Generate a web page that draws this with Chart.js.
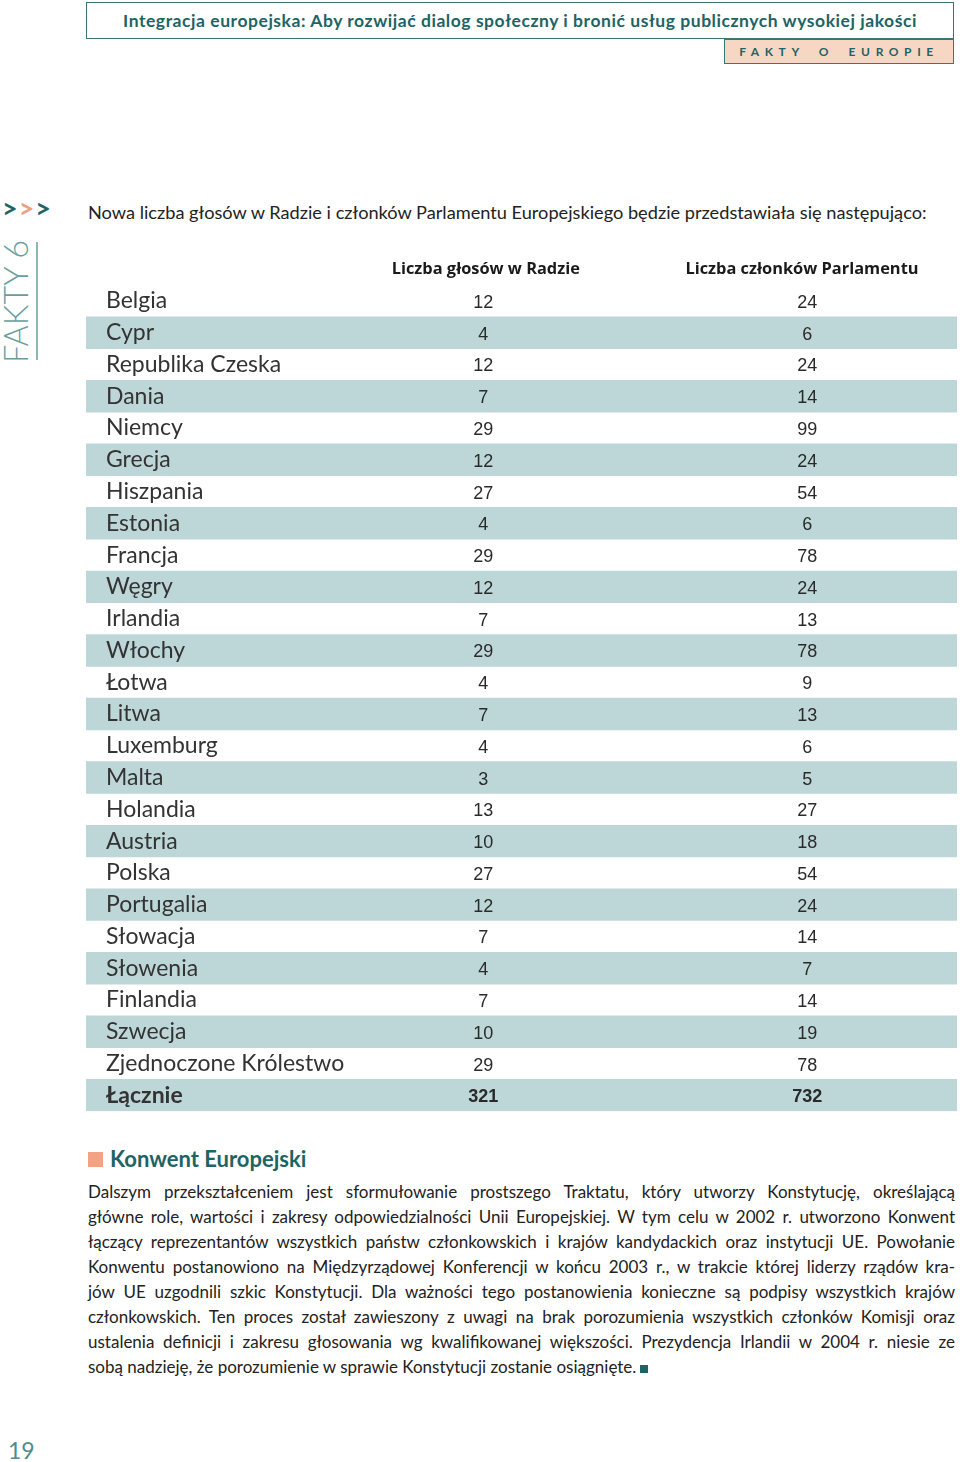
<!DOCTYPE html>
<html lang="pl">
<head>
<meta charset="utf-8">
<script src="https://cdn.jsdelivr.net/npm/chart.js@4.4.1/dist/chart.umd.min.js"></script>
<style>
  html, body { margin: 0; padding: 0; background: #fff; }
  body { width: 960px; height: 1462px; position: relative; overflow: hidden; font-family: Lato, "Noto Sans", sans-serif; color: #222; }
  .abs { position: absolute; }
  #title { left: 86px; top: 2px; width: 866px; height: 35px; border: 1.5px solid #3b7676; color: #1d6464;
    font-weight: bold; font-size: 17.5px; letter-spacing: 0.55px; line-height: 35px; text-align: center; white-space: nowrap; }
  #tag { left: 724px; top: 38.5px; width: 228px; height: 23px; border: 1.5px solid #3b7676; background: #f8d6c4;
    color: #1d6464; font-weight: bold; font-size: 12px; line-height: 23px; letter-spacing: 5.6px; word-spacing: 6px;
    text-align: center; white-space: nowrap; }
  #arrows { left: 2px; top: 193px; font-weight: bold; font-size: 27px; line-height: 30px; letter-spacing: 1px; white-space: nowrap; }
  #side { left: -3px; top: 241px; height: 122px; writing-mode: vertical-rl; transform: rotate(180deg);
    font-weight: 300; font-size: 32.5px; line-height: 38px; color: #6a9e9e; white-space: nowrap; }
  #sideLine { left: 36px; top: 242px; width: 1.5px; height: 118px; background: #8fb4b4; }
  #intro { left: 88px; top: 203px; font-size: 18.2px; line-height: 18px; white-space: nowrap; }
  #table { left: 86px; top: 250px; }
  #konwent { left: 110px; top: 1146px; font-weight: bold; font-size: 22px; line-height: 26px; color: #1d6464; }
  #sq { left: 88px; top: 1152px; width: 15px; height: 15px; background: #f4a283; }
  #para { left: 88px; top: 1179px; width: 867px; font-size: 17px; line-height: 25px; }
  #para div { text-align: justify; text-align-last: justify; white-space: nowrap; }
  #para div.last { text-align-last: left; }
  .end { display: inline-block; width: 8px; height: 8px; background: #1d6464; margin-left: 4px; }
  #page { left: 8px; top: 1437px; font-size: 23px; line-height: 26px; color: #4e8c8c; }
</style>
</head>
<body>
<div id="title" class="abs">Integracja europejska: Aby rozwijać dialog społeczny i bronić usług publicznych wysokiej jakości</div>
<div id="tag" class="abs">FAKTY O EUROPIE</div>
<div id="arrows" class="abs"><span style="color:#1d6464">&gt;</span><span style="color:#f0a080">&gt;</span><span style="color:#1d6464">&gt;</span></div>
<div id="side" class="abs">FAKTY 6</div>
<div id="sideLine" class="abs"></div>
<div id="intro" class="abs">Nowa liczba głosów w Radzie i członków Parlamentu Europejskiego będzie przedstawiała się następująco:</div>

<div id="table" class="abs"><canvas id="grid" width="871" height="895"></canvas></div>

<div id="sq" class="abs"></div>
<div id="konwent" class="abs">Konwent Europejski</div>
<div id="para" class="abs">
  <div>Dalszym przekształceniem jest sformułowanie prostszego Traktatu, który utworzy Konstytucję, określającą</div>
  <div>główne role, wartości i zakresy odpowiedzialności Unii Europejskiej. W tym celu w 2002 r. utworzono Konwent</div>
  <div>łączący reprezentantów wszystkich państw członkowskich i krajów kandydackich oraz instytucji UE. Powołanie</div>
  <div>Konwentu postanowiono na Międzyrządowej Konferencji w końcu 2003 r., w trakcie której liderzy rządów kra-</div>
  <div>jów UE uzgodnili szkic Konstytucji. Dla ważności tego postanowienia konieczne są podpisy wszystkich krajów</div>
  <div>członkowskich. Ten proces został zawieszony z uwagi na brak porozumienia wszystkich członków Komisji oraz</div>
  <div>ustalenia definicji i zakresu głosowania wg kwalifikowanej większości. Prezydencja Irlandii w 2004 r. niesie ze</div>
  <div class="last">sobą nadzieję, że porozumienie w sprawie Konstytucji zostanie osiągnięte.<span class="end"></span></div>
</div>
<div id="page" class="abs">19</div>

<script>
const countries = ["Belgia", "Cypr", "Republika Czeska", "Dania", "Niemcy", "Grecja", "Hiszpania", "Estonia",
  "Francja", "Węgry", "Irlandia", "Włochy", "Łotwa", "Litwa", "Luxemburg", "Malta", "Holandia", "Austria",
  "Polska", "Portugalia", "Słowacja", "Słowenia", "Finlandia", "Szwecja", "Zjednoczone Królestwo"];
const councilVotes = [12, 4, 12, 7, 29, 12, 27, 4, 29, 12, 7, 29, 4, 7, 4, 3, 13, 10, 27, 12, 7, 4, 7, 10, 29];
const parliamentSeats = [24, 6, 24, 14, 99, 24, 54, 6, 78, 24, 13, 78, 9, 13, 6, 5, 27, 18, 54, 24, 14, 7, 14, 19, 78];
const totalLabel = "Łącznie";
const totalVotes = 321;
const totalSeats = 732;
const columnHeaders = ["Liczba głosów w Radzie", "Liczba członków Parlamentu"];

const rowLabels = countries.concat([totalLabel]);
const votesCol = councilVotes.concat([totalVotes]);
const seatsCol = parliamentSeats.concat([totalSeats]);
const lastRow = rowLabels.length - 1;

// column centres on the 0..1 x scale
const HEADER_X = [0.459, 0.822];
const VALUE_X = [0.456, 0.828];

const cellText = {
  id: "cellText",
  afterDatasetsDraw(chart) {
    const { ctx, scales: { x, y } } = chart;
    ctx.save();
    ctx.fillStyle = "#2a2a2a";
    ctx.textAlign = "center";
    ctx.textBaseline = "middle";
    rowLabels.forEach((_, i) => {
      ctx.font = (i === lastRow ? "bold " : "") + "18px 'Liberation Sans'";
      const py = y.getPixelForValue(i) + 2;
      ctx.fillText(String(votesCol[i]), x.getPixelForValue(VALUE_X[0]), py);
      ctx.fillText(String(seatsCol[i]), x.getPixelForValue(VALUE_X[1]), py);
    });
    ctx.restore();
  }
};

new Chart(document.getElementById("grid"), {
  type: "bar",
  data: {
    labels: rowLabels,
    datasets: [{
      // shaded band on every other row and on the total
      data: rowLabels.map((_, i) => (i % 2 === 1 ? [0, 1] : null)),
      backgroundColor: "#bdd6d8",
      barPercentage: 1,
      categoryPercentage: 1,
      borderWidth: 0
    }]
  },
  options: {
    indexAxis: "y",
    responsive: false,
    animation: false,
    layout: { padding: 0, autoPadding: false },
    plugins: { legend: { display: false }, tooltip: { enabled: false } },
    scales: {
      x: {
        type: "linear",
        position: "top",
        min: 0,
        max: 1,
        grid: { display: false, drawTicks: false },
        border: { display: false },
        afterBuildTicks: s => { s.ticks = HEADER_X.map(v => ({ value: v })); },
        afterFit: s => { s.height = 35; },
        ticks: {
          autoSkip: false,
          maxRotation: 0,
          padding: 6,
          color: "#1a1a1a",
          font: { family: "Open Sans", size: 16.4, weight: "bold" },
          callback: (v, i) => columnHeaders[i]
        }
      },
      y: {
        type: "category",
        position: "left",
        offset: true,
        grid: { display: false, drawTicks: false },
        border: { display: false },
        afterFit: s => { s.width = 0; },
        ticks: {
          z: 1,
          mirror: true,
          padding: 20,
          autoSkip: false,
          color: "#333",
          font: c => ({ family: "Lato", size: 23, weight: c.index === lastRow ? "bold" : "normal" })
        }
      }
    }
  },
  plugins: [cellText]
});
</script>
</body>
</html>
